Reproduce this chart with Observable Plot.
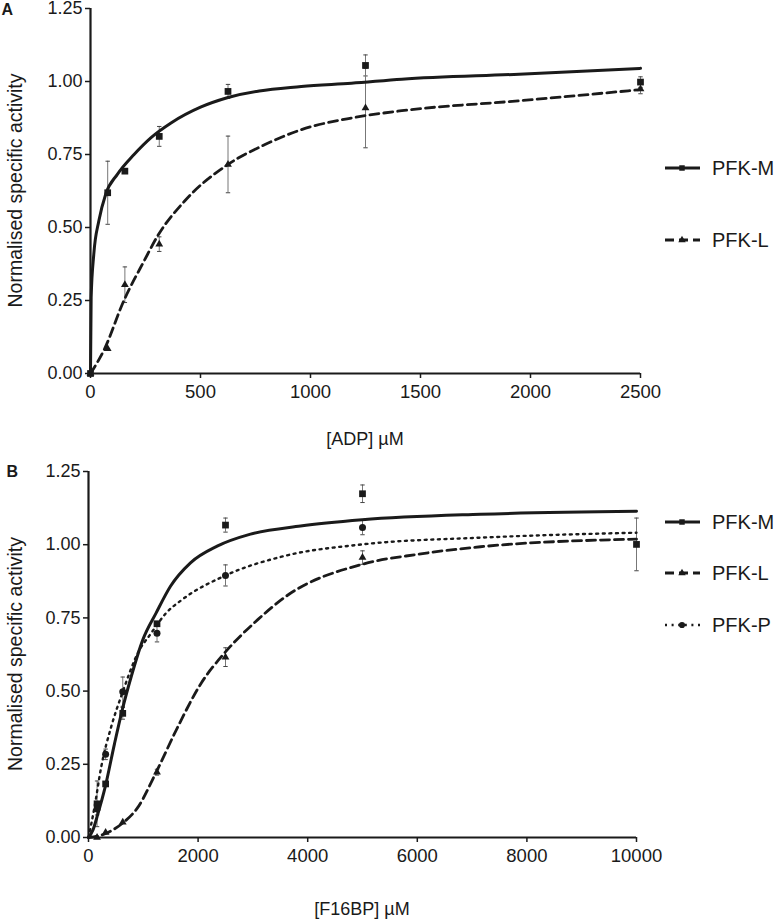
<!DOCTYPE html>
<html>
<head>
<meta charset="utf-8">
<script src="https://cdn.jsdelivr.net/npm/d3@7"></script>
<script src="https://cdn.jsdelivr.net/npm/@observablehq/plot@0.6"></script>
<style>
  body { margin: 0; background: #fff; }
  #chart { width: 777px; }
  #chart svg { display: block; }
  #chart svg g[aria-label="y-axis tick label"] { font-size: 18px; }
  #chart svg g[aria-label="x-axis tick label"] { font-size: 18.5px; }
</style>
</head>
<body>
<div id="chart"></div>
<script>
// ---------------- Panel A : [ADP] ----------------
const adpConc  = [0, 78.125, 156.25, 312.5, 625, 1250, 2500];
const adpM     = [0, 0.619, 0.693, 0.812, 0.966, 1.055, 0.998];
const adpMerr  = [0, 0.108, 0, 0.034, 0.024, 0.036, 0.018];
const adpL     = [0, 0.085, 0.304, 0.443, 0.716, 0.909, 0.974];
const adpLerr  = [0, 0, 0.061, 0.025, 0.097, 0.136, 0.016];

const adpFitMx = [0, 3, 15, 38, 69, 122, 198, 274, 366, 500, 625, 958, 1186, 1415, 1948, 2500];
const adpFitMy = [0, 0.261, 0.409, 0.523, 0.614, 0.682, 0.75, 0.807, 0.858, 0.912, 0.945, 0.983, 0.994, 1.008, 1.025, 1.045];
const adpFitLx = [0, 61, 152, 244, 305, 427, 625, 793, 958, 1186, 1415, 1948, 2500];
const adpFitLy = [0, 0.08, 0.25, 0.386, 0.471, 0.59, 0.716, 0.784, 0.835, 0.875, 0.9, 0.934, 0.972];

const adpTicks = [0, 500, 1000, 1500, 2000, 2500];

// ---------------- Panel B : [F16BP] ----------------
const f16Conc  = [156.25, 312.5, 625, 1250, 2500, 5000, 10000];
const f16M     = [0.115, 0.183, 0.424, 0.73, 1.067, 1.174, 1.001];
const f16Merr  = [0.078, 0, 0.02, 0, 0.024, 0.03, 0.09];
const f16L     = [0.0, 0.017, 0.052, 0.223, 0.616, 0.956, null];
const f16Lerr  = [0, 0, 0, 0.01, 0.032, 0.023, null];
const f16P     = [0.097, 0.284, 0.498, 0.698, 0.895, 1.059, null];
const f16Perr  = [0.02, 0.018, 0.05, 0.03, 0.036, 0.025, null];

const f16FitMx = [0, 80, 170, 304, 474, 615, 779, 991, 1235, 1496, 1861, 2348, 2956, 3869, 4994, 7153, 10000];
const f16FitMy = [0, 0.025, 0.08, 0.172, 0.32, 0.435, 0.549, 0.675, 0.767, 0.858, 0.938, 0.995, 1.036, 1.064, 1.085, 1.104, 1.114];
const f16FitLx = [0, 292, 615, 900, 1235, 1630, 2056, 2482, 3089, 3577, 4994, 5998, 7153, 10000];
const f16FitLy = [0, 0.012, 0.048, 0.103, 0.223, 0.378, 0.527, 0.63, 0.744, 0.82, 0.933, 0.967, 0.993, 1.019];
const f16FitPx = [0, 109, 231, 414, 615, 900, 1144, 1418, 1691, 2500, 3564, 4994, 7153, 10000];
const f16FitPy = [0, 0.103, 0.24, 0.378, 0.492, 0.63, 0.698, 0.767, 0.81, 0.895, 0.961, 1.001, 1.024, 1.041];

const f16Ticks = [0, 2000, 4000, 6000, 8000, 10000];

const yTicks = [0, 0.25, 0.5, 0.75, 1.0, 1.25];
const yLabel = "Normalised specific activity";

// ---------------- styling ----------------
const FONT = "'Liberation Sans', Arial, Helvetica, sans-serif";
const INK = "#1a1a1a";
const STY = {
  M: { dash: null,    width: 3,   symbol: "square",   r: 3.8, d3sym: d3.symbolSquare,   lsize: 30 },
  L: { dash: "9,5",   width: 2.8, symbol: "triangle", r: 2.9, d3sym: d3.symbolTriangle, lsize: 24 },
  P: { dash: "2,4.6", width: 2.4, symbol: "circle",   r: 3.5, d3sym: d3.symbolCircle,   lsize: 30 }
};
const capSymbol = { draw(ctx, size) { const r = Math.sqrt(size / Math.PI); ctx.moveTo(-r, 0); ctx.lineTo(r, 0); } };

function pts(xs, ys, es) { return xs.map((x, i) => ({ x, y: ys[i], e: es[i] })).filter(d => d.y != null); }
function fit(xs, ys) { return xs.map((x, i) => ({ x, y: ys[i] })); }

function seriesMarks(p, f, s) {
  const bars = p.filter(d => d.e > 0);
  const lineOpts = { x: "x", y: "y", curve: "monotone-x", stroke: INK, strokeWidth: s.width };
  if (s.dash) lineOpts.strokeDasharray = s.dash;
  return {
    under: [
      Plot.ruleX(bars, { x: "x", y1: d => d.y - d.e, y2: d => d.y + d.e, stroke: "#777", strokeWidth: 1 }),
      Plot.dot(bars, { x: "x", y: d => d.y + d.e, symbol: capSymbol, r: 2.2, stroke: "#444", strokeWidth: 1, fill: "none" }),
      Plot.dot(bars, { x: "x", y: d => d.y - d.e, symbol: capSymbol, r: 2.2, stroke: "#444", strokeWidth: 1, fill: "none" })
    ],
    line: Plot.line(f, lineOpts),
    dots: Plot.dot(p, { x: "x", y: "y", symbol: s.symbol, r: s.r, fill: INK, stroke: "none" })
  };
}

function panel(cfg) {
  const parts = cfg.series.map(s => seriesMarks(s.p, s.f, STY[s.key]));
  const svg = Plot.plot({
    width: 777, height: cfg.height,
    marginTop: cfg.mt, marginBottom: cfg.mb, marginLeft: cfg.ml, marginRight: cfg.mr,
    style: { fontFamily: FONT, fontSize: "18px", color: INK, background: "#fff", overflow: "visible" },
    x: { domain: cfg.xDomain },
    y: { domain: [0, 1.25] },
    marks: [
      ...parts.flatMap(p => p.under),
      ...parts.map(p => p.line),
      ...parts.map(p => p.dots),
      Plot.ruleX([0], { stroke: INK, strokeWidth: 2.2 }),
      Plot.ruleY([0], { stroke: INK, strokeWidth: 2.2 }),
      Plot.axisY({ ticks: yTicks, tickFormat: d3.format(".2f"), tickSize: 5, tickPadding: 3, label: null, fontSize: 18, strokeWidth: 1.5 }),
      Plot.axisX({ ticks: cfg.xTicks, tickFormat: d3.format("d"), tickSize: 5, tickPadding: 6, label: null, fontSize: 18.5, strokeWidth: 1.5 })
    ]
  });
  const g = d3.select(svg).append("g").attr("font-family", FONT).attr("fill", INK).attr("text-anchor", "start");
  // panel letter
  g.append("text").attr("x", cfg.letterX).attr("y", cfg.letterY).attr("text-anchor", "start")
    .attr("font-weight", "bold").attr("font-size", 16).text(cfg.letter);
  // y label
  const cy = (cfg.mt + (cfg.height - cfg.mb)) / 2;
  g.append("text").attr("transform", `translate(22,${cy}) rotate(-90)`)
    .attr("text-anchor", "middle").attr("font-size", 19.5).text(yLabel);
  // x label
  g.append("text").attr("x", cfg.xLabelX).attr("y", cfg.xLabelY)
    .attr("text-anchor", "middle").attr("font-size", 18).text(cfg.xLabel);
  // legend
  cfg.series.forEach((s, i) => {
    const st = STY[s.key];
    const y = cfg.legendY[i];
    const line = g.append("line").attr("x1", 665).attr("x2", 700).attr("y1", y).attr("y2", y)
      .attr("stroke", INK).attr("stroke-width", st.width);
    if (st.dash) line.attr("stroke-dasharray", st.dash);
    g.append("path").attr("d", d3.symbol(st.d3sym, st.lsize)()).attr("transform", `translate(682,${y})`).attr("fill", INK);
    g.append("text").attr("x", 712).attr("y", y).attr("dy", "0.36em").attr("text-anchor", "start")
      .attr("font-size", 20).text(s.name);
  });
  return svg;
}

const chart = document.getElementById("chart");

chart.appendChild(panel({
  height: 450, mt: 8, mb: 77, ml: 90, mr: 137,
  xDomain: [0, 2500], xTicks: adpTicks,
  letter: "A", letterX: 1.5, letterY: 15,
  xLabel: "[ADP] µM", xLabelX: 365, xLabelY: 445,
  legendY: [168, 240],
  series: [
    { key: "M", name: "PFK-M", p: pts(adpConc, adpM, adpMerr), f: fit(adpFitMx, adpFitMy) },
    { key: "L", name: "PFK-L", p: pts(adpConc, adpL, adpLerr), f: fit(adpFitLx, adpFitLy) }
  ]
}));

chart.appendChild(panel({
  height: 470, mt: 21, mb: 83, ml: 88, mr: 141,
  xDomain: [0, 10000], xTicks: f16Ticks,
  letter: "B", letterX: 6.5, letterY: 27,
  xLabel: "[F16BP] µM", xLabelX: 362, xLabelY: 465,
  legendY: [72, 123, 175],
  series: [
    { key: "M", name: "PFK-M", p: pts(f16Conc, f16M, f16Merr), f: fit(f16FitMx, f16FitMy) },
    { key: "L", name: "PFK-L", p: pts(f16Conc, f16L, f16Lerr), f: fit(f16FitLx, f16FitLy) },
    { key: "P", name: "PFK-P", p: pts(f16Conc, f16P, f16Perr), f: fit(f16FitPx, f16FitPy) }
  ]
}));
</script>
</body>
</html>
